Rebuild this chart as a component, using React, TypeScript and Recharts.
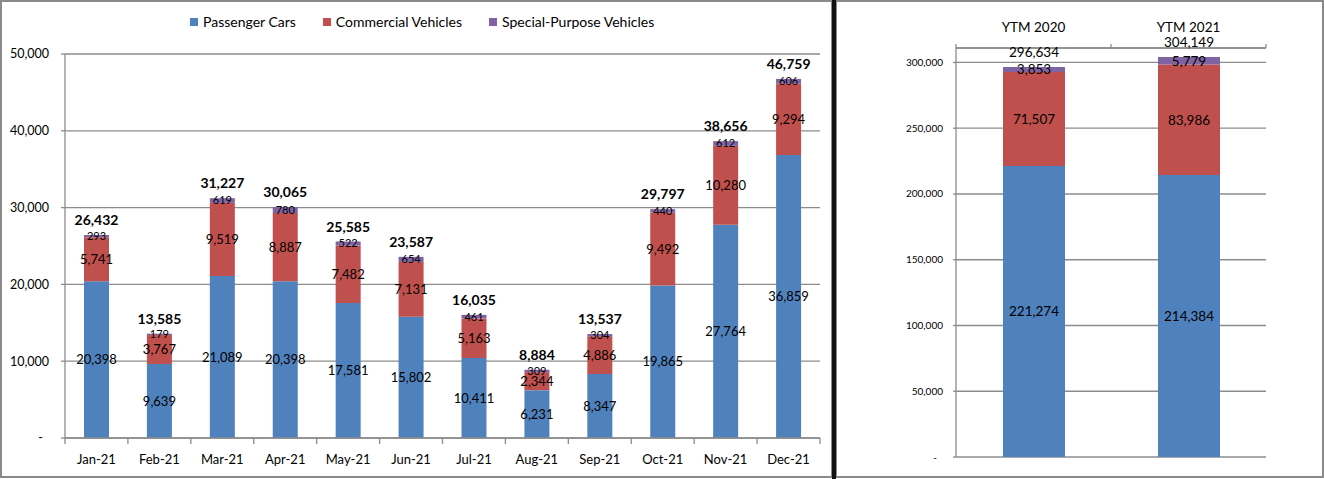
import React from 'react';
import { Bar, BarChart, CartesianGrid, LabelList, XAxis, YAxis } from 'recharts';

// Monthly sales by vehicle type, plus year-to-month totals
const MONTHS = ['Jan-21', 'Feb-21', 'Mar-21', 'Apr-21', 'May-21', 'Jun-21', 'Jul-21', 'Aug-21', 'Sep-21', 'Oct-21', 'Nov-21', 'Dec-21'];
const PASSENGER = [20398, 9639, 21089, 20398, 17581, 15802, 10411, 6231, 8347, 19865, 27764, 36859];
const COMMERCIAL = [5741, 3767, 9519, 8887, 7482, 7131, 5163, 2344, 4886, 9492, 10280, 9294];
const SPECIAL = [293, 179, 619, 780, 522, 654, 461, 309, 304, 440, 612, 606];

const YTM_LABELS = ['YTM 2020', 'YTM 2021'];
const YTM_PASSENGER = [221274, 214384];
const YTM_COMMERCIAL = [71507, 83986];
const YTM_SPECIAL = [3853, 5779];

const SERIES_NAMES = ['Passenger Cars', 'Commercial Vehicles', 'Special-Purpose Vehicles'];
const MONTH_TICKS = [0, 10000, 20000, 30000, 40000, 50000];
const YTM_TICKS = [0, 50000, 100000, 150000, 200000, 250000, 300000];

const COLORS = ['#4F81BD', '#C0504D', '#8064A2'];
const FONT = 'Lato, Calibri, sans-serif';
const GRID = '#8c8c8c';

const monthData = MONTHS.map((m, i) => ({ label: m, pc: PASSENGER[i], cv: COMMERCIAL[i], sp: SPECIAL[i] }));
const monthTotals = MONTHS.map((_, i) => PASSENGER[i] + COMMERCIAL[i] + SPECIAL[i]);
const ytmData = YTM_LABELS.map((l, i) => ({ label: l, pc: YTM_PASSENGER[i], cv: YTM_COMMERCIAL[i], sp: YTM_SPECIAL[i] }));
const ytmTotals = YTM_LABELS.map((_, i) => YTM_PASSENGER[i] + YTM_COMMERCIAL[i] + YTM_SPECIAL[i]);

const fmt = (v: number) => Number(v).toLocaleString('en-US');

// left chart geometry
const L_W = 832;
const L_H = 479;
const L_MARGIN = { top: 54, right: 12, bottom: 11, left: 5 };
const L_AXIS_Y = L_H - L_MARGIN.bottom - 30;
const L_STEP = (L_W - L_MARGIN.left - 60 - L_MARGIN.right) / MONTHS.length;

// right chart geometry
const R_W = 486;
const R_H = 479;
const R_MARGIN = { top: 20, right: 56, bottom: 22, left: 60 };
const R_AXIS_Y = R_MARGIN.top + 28;
const R_STEP = (R_W - R_MARGIN.left - 60 - R_MARGIN.right) / YTM_LABELS.length;

function totalLabel(totals: number[], bold: boolean) {
  return (props: any) => {
    const { x, y, width, index } = props;
    return (
      <text
        x={Number(x) + Number(width) / 2}
        y={Number(y) - 10}
        textAnchor="middle"
        fill="#000"
        fontSize={bold ? 14 : 13.5}
        fontWeight={bold ? 700 : 400}
        fontFamily={FONT}
      >
        {fmt(totals[index])}
      </text>
    );
  };
}

function valueTick(size: number) {
  return (props: any) => {
    const { x, y, payload } = props;
    const zero = payload.value === 0;
    return (
      <text x={zero ? x - 6 : x} y={y} dy="0.35em" textAnchor="end" fill="#000" fontSize={size} fontFamily={FONT}>
        {zero ? '-' : fmt(payload.value)}
      </text>
    );
  };
}

function MonthTick(props: any) {
  const { x, payload, index } = props;
  const last = index === MONTHS.length - 1;
  return (
    <g>
      <line x1={x - L_STEP / 2} x2={x - L_STEP / 2} y1={L_AXIS_Y} y2={L_AXIS_Y + 6} stroke={GRID} strokeWidth={1.3} />
      {last && <line x1={x + L_STEP / 2} x2={x + L_STEP / 2} y1={L_AXIS_Y} y2={L_AXIS_Y + 6} stroke={GRID} strokeWidth={1.3} />}
      <text x={x} y={L_AXIS_Y + 26} textAnchor="middle" fill="#000" fontSize={13} fontFamily={FONT}>
        {payload.value}
      </text>
    </g>
  );
}

function YtmTick(props: any) {
  const { x, payload, index } = props;
  const last = index === YTM_LABELS.length - 1;
  return (
    <g>
      <line x1={x - R_STEP / 2} x2={x - R_STEP / 2} y1={R_AXIS_Y} y2={R_AXIS_Y - 4} stroke={GRID} strokeWidth={1.3} />
      {last && <line x1={x + R_STEP / 2} x2={x + R_STEP / 2} y1={R_AXIS_Y} y2={R_AXIS_Y - 4} stroke={GRID} strokeWidth={1.3} />}
      <text x={x} y={R_AXIS_Y - 16} textAnchor="middle" fill="#000" fontSize={13.5} fontFamily={FONT}>
        {payload.value}
      </text>
    </g>
  );
}

function Legend() {
  return (
    <div style={{ position: 'absolute', left: 190, top: 13, display: 'flex', fontFamily: FONT, fontSize: 14, color: '#000' }}>
      {SERIES_NAMES.map((name, i) => (
        <div key={name} style={{ display: 'flex', alignItems: 'center', marginRight: 27 }}>
          <span style={{ width: 8, height: 8, background: COLORS[i], marginRight: 5 }} />
          <span>{name}</span>
        </div>
      ))}
    </div>
  );
}

export default function App() {
  return (
    <div style={{ position: 'absolute', left: 0, top: 0, width: 1324, height: 479, background: '#fff', overflow: 'hidden' }}>
      <div style={{ position: 'absolute', left: 0, top: 0, width: 833, height: 478, border: '2px solid #8a8a8a', boxSizing: 'border-box' }} />
      <div style={{ position: 'absolute', left: 832, top: 0, width: 4, height: 479, background: '#111' }} />
      <div style={{ position: 'absolute', left: 836, top: 0, width: 488, height: 478, border: '2px solid #8a8a8a', borderLeftWidth: 1, boxSizing: 'border-box' }} />

      <div style={{ position: 'absolute', left: 0, top: 0 }}>
        <BarChart width={L_W} height={L_H} data={monthData} margin={L_MARGIN} barSize={25}>
          <CartesianGrid vertical={false} stroke={GRID} strokeWidth={1.3} />
          <XAxis dataKey="label" height={30} tick={<MonthTick />} tickLine={false} axisLine={{ stroke: GRID, strokeWidth: 1.3 }} interval={0} />
          <YAxis
            width={60}
            domain={[0, 50000]}
            ticks={MONTH_TICKS}
            tick={valueTick(12.5)}
            tickSize={4}
            tickMargin={12}
            tickLine={{ stroke: GRID, strokeWidth: 1.3 }}
            axisLine={{ stroke: GRID, strokeWidth: 1.3 }}
          />
          <Bar dataKey="pc" stackId="a" fill={COLORS[0]} isAnimationActive={false}>
            <LabelList dataKey="pc" position="center" formatter={fmt} fill="#000" fontSize={13} fontFamily={FONT} />
          </Bar>
          <Bar dataKey="cv" stackId="a" fill={COLORS[1]} isAnimationActive={false}>
            <LabelList dataKey="cv" position="center" formatter={fmt} fill="#000" fontSize={13} fontFamily={FONT} />
          </Bar>
          <Bar dataKey="sp" stackId="a" fill={COLORS[2]} isAnimationActive={false}>
            <LabelList dataKey="sp" position="center" formatter={fmt} fill="#000" fontSize={11} fontFamily={FONT} />
            <LabelList dataKey="sp" content={totalLabel(monthTotals, true)} />
          </Bar>
        </BarChart>
      </div>
      <Legend />

      <div style={{ position: 'absolute', left: 836, top: 0 }}>
        <BarChart width={R_W} height={R_H} data={ytmData} margin={R_MARGIN} barSize={62}>
          <CartesianGrid vertical={false} stroke={GRID} strokeWidth={1.3} />
          <XAxis
            dataKey="label"
            orientation="top"
            height={28}
            tick={<YtmTick />}
            tickLine={false}
            axisLine={{ stroke: GRID, strokeWidth: 1.3 }}
            interval={0}
          />
          <YAxis
            width={60}
            domain={[0, 311000]}
            ticks={YTM_TICKS}
            tick={valueTick(10)}
            tickSize={3}
            tickMargin={10}
            tickLine={{ stroke: GRID, strokeWidth: 1.3 }}
            axisLine={{ stroke: GRID, strokeWidth: 1.3 }}
          />
          <Bar dataKey="pc" stackId="a" fill={COLORS[0]} isAnimationActive={false}>
            <LabelList dataKey="pc" position="center" formatter={fmt} fill="#000" fontSize={13.5} fontFamily={FONT} />
          </Bar>
          <Bar dataKey="cv" stackId="a" fill={COLORS[1]} isAnimationActive={false}>
            <LabelList dataKey="cv" position="center" formatter={fmt} fill="#000" fontSize={13.5} fontFamily={FONT} />
          </Bar>
          <Bar dataKey="sp" stackId="a" fill={COLORS[2]} isAnimationActive={false}>
            <LabelList dataKey="sp" position="center" formatter={fmt} fill="#000" fontSize={13.5} fontFamily={FONT} />
            <LabelList dataKey="sp" content={totalLabel(ytmTotals, false)} />
          </Bar>
        </BarChart>
      </div>
    </div>
  );
}
